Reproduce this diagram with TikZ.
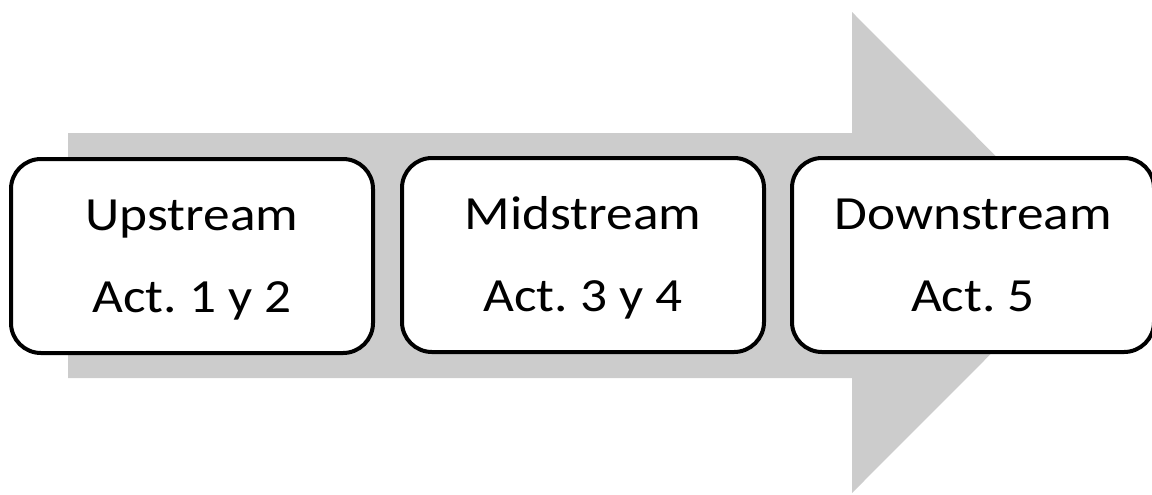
\documentclass[tikz,border=0pt]{standalone}
\usepackage{fontspec}
\setmainfont{Carlito}[FakeStretch=1.12]
\definecolor{arrowgray}{RGB}{204,204,204}
\frenchspacing
\begin{document}
\begin{tikzpicture}[x=0.75pt,y=-0.75pt,
  stagebox/.style={draw=black, line width=3pt, fill=white,
    rounded corners=22.5pt, minimum width=271.5pt, minimum height=145.5pt,
    align=center, inner sep=0pt, text height=84.5pt, text depth=0pt,
    font=\fontsize{35.7pt}{61.5pt}\selectfont}]
\useasboundingbox (0,0) rectangle (1152,494);
\clip (0,0) rectangle (1152,494);
\fill[arrowgray] (68,133) -- (852,133) -- (852,12) -- (1092,252.5)
  -- (852,493) -- (852,378) -- (68,378) -- cycle;
\node[stagebox] (up) at (192,256) {Upstream\\Act. 1 y 2};
\node[stagebox] (mid) at (583,255) {Midstream\\Act. 3 y 4};
\node[stagebox] (down) at (973,255) {Downstream\\Act. 5};
\end{tikzpicture}
\end{document}
